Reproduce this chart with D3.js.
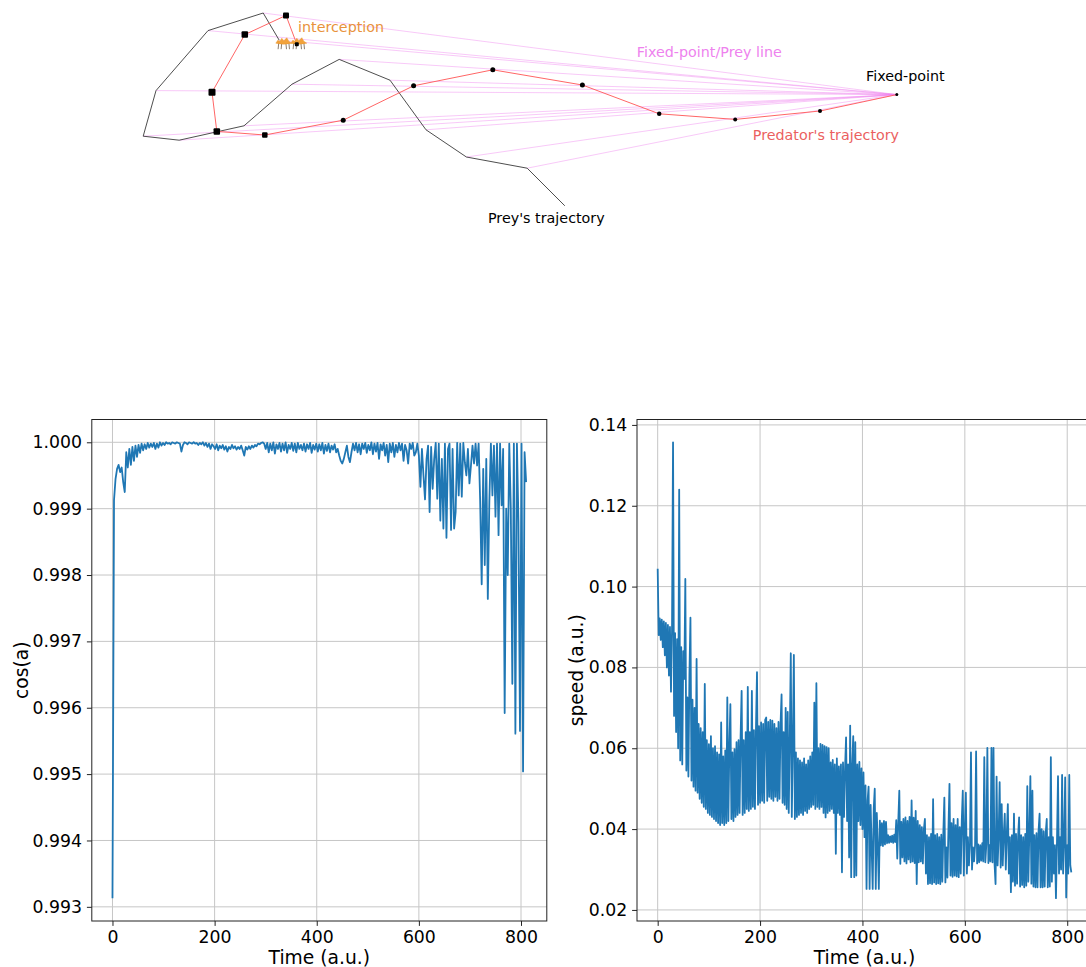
<!DOCTYPE html>
<html>
<head>
<meta charset="utf-8">
<script src="https://cdn.jsdelivr.net/npm/d3@7"></script>
<style>
  body { margin: 0; background: #fff; }
  svg { display: block; }
  text { font-family: "DejaVu Sans", sans-serif; }
</style>
</head>
<body>
<svg id="fig" width="1086" height="967"></svg>
<script>
// ---------- pursuit geometry (arena units) ----------
// prey positions, in time order, last one is where it is caught
const preyX = [48.4, 40.8, 35.75, 31.25, 24.9, 19.0, 13.0, 4.9, 0.4, 2.0, 8.5, 15.4, 17.4];
const preyY = [7.1, 8.5, 11.9, 18.1, 20.7, 17.6, 12.4, 10.6, 11.1, 16.8, 24.3, 26.5, 23.1];
// predator positions; it starts on the fixed point
const predX = [94.6, 85.0, 74.4, 64.9, 55.3, 44.1, 34.2, 25.4, 15.6, 9.6, 9.0, 13.1, 18.25, 19.6];
const predY = [16.3, 14.25, 13.2, 13.9, 17.5, 19.4, 17.4, 13.1, 11.25, 11.7, 16.6, 23.8, 26.2, 22.6];

// ---------- time series ----------
// cos(a), one sample every 3 time units
const cosStep = 3;
const cosA = [
  0.99313, 0.99913, 0.99945, 0.99960, 0.99966, 0.99955, 0.99962, 0.99940, 0.99925, 0.99985,
  0.99962, 0.99990, 0.99966, 0.99993, 0.99972, 0.99995, 0.99978, 0.99996, 0.99984, 0.99998,
  0.99988, 0.99997, 0.99990, 0.99999, 0.99992, 0.99998,
  0.99993, 0.99999, 0.99990, 0.99998, 0.99992, 1.00000, 0.99995, 0.99999, 0.99996, 1.00000,
  0.99998, 0.99999, 0.99997, 1.00000, 0.99999, 0.99998, 1.00000, 0.99999,
  0.99998, 0.99986, 0.99996, 1.00000, 0.99999, 0.99997, 1.00000, 0.99999, 0.99998, 1.00000,
  0.99998, 0.99999, 0.99996, 0.99999, 0.99997, 1.00000, 0.99995, 0.99999, 0.99993, 0.99998,
  0.99990, 0.99997, 0.99994,
  0.99990, 0.99997, 0.99988, 0.99995, 0.99991, 0.99996, 0.99989, 0.99994, 0.99986, 0.99993,
  0.99990, 0.99996, 0.99991, 0.99994, 0.99989, 0.99993, 0.99990, 0.99995, 0.99988, 0.99980,
  0.99993, 0.99989, 0.99994, 0.99990, 0.99995, 0.99992, 0.99996, 0.99994, 0.99998, 0.99997,
  0.99999, 1.00000, 0.99998, 0.99990,
  0.99999, 0.99985, 0.99998, 0.99988, 1.00000, 0.99983, 0.99997, 0.99990, 0.99999, 0.99986,
  0.99998, 0.99988, 1.00000, 0.99984, 0.99996, 0.99990, 0.99999, 0.99987, 0.99998, 0.99985,
  0.99999, 0.99990, 0.99996, 0.99988,
  0.99998, 0.99986, 0.99997, 0.99990, 0.99999, 0.99984, 0.99996, 0.99989, 0.99998, 0.99986,
  0.99997, 0.99988, 0.99999, 0.99983, 0.99996, 0.99987, 0.99998, 0.99985, 0.99995, 0.99989,
  0.99997, 0.99985, 0.99990, 0.99980, 0.99972, 0.99968, 0.99975, 0.99985, 0.99995, 0.99978,
  0.99970, 0.99985, 0.99998,
  0.99988, 0.99999, 0.99985, 0.99997, 0.99982, 0.99998, 0.99990, 0.99999, 0.99984, 0.99996,
  0.99988, 1.00000, 0.99982, 0.99998, 0.99986, 0.99999, 0.99975, 0.99997, 0.99988, 0.99999,
  0.99980, 0.99996, 0.99970, 0.99998, 0.99985, 0.99999, 0.99978, 0.99996,
  0.99985, 0.99999, 0.99988, 0.99998, 0.99972, 0.99996, 0.99988, 0.99968, 0.99998, 0.99990,
  0.99999, 0.99980,
  0.99985, 0.99998, 0.99980, 0.99933, 0.99990, 0.99950, 0.99914, 0.99975, 0.99995, 0.99895,
  0.99993, 0.99930, 0.99975, 0.99999, 0.99915, 0.99998, 0.99882, 0.99975, 0.99870, 0.99998,
  0.99856, 0.99990, 0.99998, 0.99868, 0.99990, 0.99870, 0.99895, 0.99999, 0.99920, 0.99998,
  0.99918, 0.99999, 0.99970, 0.99950, 0.99990, 0.99938, 0.99965, 0.99995, 0.99968, 0.99998,
  0.99965, 0.99998, 0.99912, 0.99786, 0.99960, 0.99815, 0.99975, 0.99764, 0.99912, 0.99998,
  0.99920, 0.99995, 0.99888, 0.99998, 0.99860, 0.99998, 0.99905, 0.99990, 0.99592, 0.99900,
  0.99800, 0.99998, 0.99900, 0.99636, 0.99998, 0.99561, 0.99998, 0.99880, 0.99565, 0.99998,
  0.99504, 0.99985, 0.99940
];
// speed, one sample every 2 time units
const speedStep = 2;
const speed = [
  0.1044, 0.0880, 0.0921, 0.0868, 0.0918, 0.0850, 0.0914, 0.0830, 0.0910, 0.0800,
  0.0905, 0.0780, 0.0900, 0.0740, 0.0893, 0.1357, 0.0680, 0.0885, 0.0640, 0.0870,
  0.0600, 0.1240, 0.0570, 0.0850, 0.0560, 0.0840, 0.0772, 0.1019, 0.0545, 0.0726,
  0.0530, 0.0780, 0.0923, 0.0520, 0.0720, 0.0505, 0.0700, 0.0495, 0.0821, 0.0490,
  0.0660, 0.0475, 0.0650, 0.0465, 0.0640, 0.0455, 0.0759, 0.0450, 0.0620, 0.0440,
  0.0610, 0.0435, 0.0630, 0.0430, 0.0600, 0.0425, 0.0605, 0.0420, 0.0590, 0.0415,
  0.0585, 0.0410, 0.0664, 0.0415, 0.0580, 0.0410, 0.0595, 0.0415, 0.0726, 0.0420,
  0.0600, 0.0709, 0.0425, 0.0590, 0.0420, 0.0598, 0.0430, 0.0615, 0.0435, 0.0620,
  0.0440, 0.0630, 0.0742, 0.0435, 0.0620, 0.0440, 0.0640, 0.0450, 0.0752, 0.0445,
  0.0640, 0.0450, 0.0742, 0.0455, 0.0645, 0.0450, 0.0650, 0.0788, 0.0460, 0.0655,
  0.0465, 0.0664, 0.0470, 0.0660, 0.0465, 0.0670, 0.0676, 0.0470, 0.0665, 0.0480,
  0.0670, 0.0475, 0.0668, 0.0470, 0.0660, 0.0480, 0.0650, 0.0470, 0.0665, 0.0475,
  0.0660, 0.0733, 0.0465, 0.0640, 0.0460, 0.0700, 0.0450, 0.0690, 0.0440, 0.0620,
  0.0835, 0.0430, 0.0610, 0.0831, 0.0425, 0.0590, 0.0430, 0.0575, 0.0435, 0.0570,
  0.0440, 0.0565, 0.0435, 0.0575, 0.0445, 0.0560, 0.0440, 0.0570, 0.0450, 0.0580,
  0.0455, 0.0590, 0.0460, 0.0713, 0.0450, 0.0761, 0.0455, 0.0600, 0.0450, 0.0611,
  0.0455, 0.0608, 0.0440, 0.0605, 0.0429, 0.0603, 0.0440, 0.0600, 0.0445, 0.0565,
  0.0450, 0.0571, 0.0440, 0.0560, 0.0339, 0.0575, 0.0440, 0.0555, 0.0435, 0.0560,
  0.0293, 0.0565, 0.0430, 0.0550, 0.0627, 0.0420, 0.0560, 0.0330, 0.0656, 0.0281,
  0.0560, 0.0630, 0.0281, 0.0615, 0.0285, 0.0560, 0.0420, 0.0566, 0.0410, 0.0550,
  0.0400, 0.0540, 0.0380, 0.0508, 0.0252, 0.0470, 0.0505, 0.0252, 0.0460, 0.0350,
  0.0252, 0.0450, 0.0500, 0.0252, 0.0440, 0.0360, 0.0252, 0.0421, 0.0360, 0.0415,
  0.0358, 0.0420, 0.0362, 0.0418, 0.0365, 0.0385, 0.0366, 0.0382, 0.0368, 0.0384,
  0.0366, 0.0386, 0.0368, 0.0422, 0.0327, 0.0420, 0.0495, 0.0314, 0.0418, 0.0330,
  0.0425, 0.0320, 0.0429, 0.0315, 0.0420, 0.0325, 0.0430, 0.0318, 0.0471, 0.0320,
  0.0428, 0.0316, 0.0445, 0.0264, 0.0420, 0.0318, 0.0410, 0.0320, 0.0405, 0.0315,
  0.0400, 0.0425, 0.0290, 0.0385, 0.0264, 0.0380, 0.0266, 0.0388, 0.0264, 0.0474,
  0.0268, 0.0385, 0.0264, 0.0388, 0.0266, 0.0380, 0.0264, 0.0386, 0.0270, 0.0390,
  0.0478, 0.0268, 0.0355, 0.0280, 0.0400, 0.0512, 0.0285, 0.0415, 0.0282, 0.0425,
  0.0285, 0.0410, 0.0283, 0.0425, 0.0281, 0.0405, 0.0290, 0.0420, 0.0495, 0.0285,
  0.0400, 0.0490, 0.0290, 0.0380, 0.0310, 0.0360, 0.0590, 0.0300, 0.0355, 0.0320,
  0.0360, 0.0592, 0.0315, 0.0362, 0.0318, 0.0360, 0.0322, 0.0365, 0.0320, 0.0578,
  0.0318, 0.0362, 0.0601, 0.0316, 0.0360, 0.0320, 0.0601, 0.0318, 0.0601, 0.0315,
  0.0264, 0.0530, 0.0310, 0.0380, 0.0516, 0.0305, 0.0462, 0.0310, 0.0385, 0.0438,
  0.0300, 0.0388, 0.0462, 0.0290, 0.0380, 0.0244, 0.0385, 0.0270, 0.0438, 0.0260,
  0.0388, 0.0265, 0.0380, 0.0429, 0.0258, 0.0385, 0.0262, 0.0380, 0.0256, 0.0388,
  0.0260, 0.0506, 0.0270, 0.0390, 0.0531, 0.0265, 0.0495, 0.0258, 0.0385, 0.0256,
  0.0390, 0.0256, 0.0395, 0.0438, 0.0256, 0.0400, 0.0256, 0.0395, 0.0258, 0.0390,
  0.0425, 0.0256, 0.0380, 0.0258, 0.0578, 0.0270, 0.0380, 0.0290, 0.0360, 0.0229,
  0.0370, 0.0531, 0.0290, 0.0380, 0.0300, 0.0534, 0.0290, 0.0370, 0.0528, 0.0231,
  0.0360, 0.0290, 0.0534, 0.0310, 0.0293
];
const timeTicks = [0, 200, 400, 600, 800];
const cosTicks = [0.993, 0.994, 0.995, 0.996, 0.997, 0.998, 0.999, 1.000];
const speedTicks = [0.02, 0.04, 0.06, 0.08, 0.10, 0.12, 0.14];

const svg = d3.select("#fig");
svg.append("rect").attr("width", 1086).attr("height", 967).attr("fill", "#fff");

// ---------- top: pursuit diagram ----------
const ax = d3.scaleLinear().domain([0, 100]).range([140, 940]);
const ay = d3.scaleLinear().domain([0, 28]).range([225, 1]);
const prey = preyX.map((x, i) => [x, preyY[i]]);
const pred = predX.map((x, i) => [x, predY[i]]);
const fixedPoint = pred[0];
const markerSize = [3, 4, 4, 4.5, 5, 5, 5, 5, 5.5, 6.5, 7, 6.5, 6, 4];

const diag = svg.append("g");
// bearing lines from the fixed point to every prey position
diag.selectAll("line.bearing").data(prey).join("line")
  .attr("class", "bearing")
  .attr("x1", ax(fixedPoint[0])).attr("y1", ay(fixedPoint[1]))
  .attr("x2", d => ax(d[0])).attr("y2", d => ay(d[1]))
  .attr("stroke", "#ee82ee").attr("stroke-opacity", 0.55).attr("stroke-width", 0.8);

const path = d3.line().x(d => ax(d[0])).y(d => ay(d[1]));
diag.append("path").attr("d", path(prey))
  .attr("fill", "none").attr("stroke", "#3a3a3a").attr("stroke-width", 0.9);
diag.append("path").attr("d", path(pred))
  .attr("fill", "none").attr("stroke", "#ff6666").attr("stroke-width", 1);

// annotation stroke from the prey label to the first prey position
const preyLabelAnchor = [53.1, 2.4];
diag.append("line")
  .attr("x1", ax(prey[0][0])).attr("y1", ay(prey[0][1]))
  .attr("x2", ax(preyLabelAnchor[0])).attr("y2", ay(preyLabelAnchor[1]))
  .attr("stroke", "#222").attr("stroke-width", 0.8);

// interception glyphs: two small figures at the catch point
const hit = pred[pred.length - 1];
const icon = diag.append("g").attr("transform", `translate(${ax(hit[0])},${ay(hit[1])})`);
[-13, 2].forEach(dx => {
  const c = icon.append("g").attr("transform", `translate(${dx},-2)`);
  [-5, -2, 2, 5].forEach(lx => c.append("line")
    .attr("x1", lx).attr("y1", 0).attr("x2", lx + (lx < 0 ? -0.7 : 0.7)).attr("y2", 7)
    .attr("stroke", "#8c7d70").attr("stroke-width", 1));
  c.append("path")
    .attr("d", "M-8,1 L-6,-2 L-4,-1 L-2,-4 L0,-1.5 L3,-4.5 L5,-1 L8,1 Q0,3 -8,1 Z")
    .attr("fill", "#f2a23a").attr("stroke", "#e59028").attr("stroke-width", 0.4);
});

// predator markers
diag.selectAll("rect.mk").data(pred).join("rect")
  .attr("class", "mk")
  .attr("x", (d, i) => ax(d[0]) - markerSize[i] / 2)
  .attr("y", (d, i) => ay(d[1]) - markerSize[i] / 2)
  .attr("width", (d, i) => markerSize[i]).attr("height", (d, i) => markerSize[i])
  .attr("rx", (d, i) => i < 8 ? markerSize[i] / 2 : 1)
  .attr("fill", "#000");

const labels = [
  { t: "interception", x: 19.75, y: 24.1, c: "#e8923c" },
  { t: "Fixed-point/Prey line", x: 62.1, y: 20.95, c: "#ee82ee" },
  { t: "Fixed-point", x: 90.75, y: 18.05, c: "#000" },
  { t: "Predator's trajectory", x: 76.6, y: 10.6, c: "#eb5f5f" },
  { t: "Prey's trajectory", x: 43.5, y: 0.25, c: "#000" }
];
diag.selectAll("text.lbl").data(labels).join("text")
  .attr("class", "lbl")
  .attr("x", d => ax(d.x)).attr("y", d => ay(d.y))
  .attr("fill", d => d.c).attr("font-size", 14.3).text(d => d.t);

// ---------- bottom: time series panels ----------
function padded(ext) {
  const p = (ext[1] - ext[0]) * 0.05;
  return [ext[0] - p, ext[1] + p];
}

function panel(o) {
  const times = o.values.map((_, i) => i * o.step);
  const x = d3.scaleLinear().domain(padded(d3.extent(times))).range([o.x0, o.x0 + o.w]);
  const y = d3.scaleLinear().domain(padded(d3.extent(o.values))).range([o.y0 + o.h, o.y0]);
  const g = svg.append("g");

  g.selectAll("line.gx").data(timeTicks).join("line").attr("class", "gx")
    .attr("x1", d => x(d)).attr("x2", d => x(d)).attr("y1", o.y0).attr("y2", o.y0 + o.h)
    .attr("stroke", "#c6c6c6").attr("stroke-width", 1);
  g.selectAll("line.gy").data(o.ticks).join("line").attr("class", "gy")
    .attr("y1", d => y(d)).attr("y2", d => y(d)).attr("x1", o.x0).attr("x2", o.x0 + o.w)
    .attr("stroke", "#c6c6c6").attr("stroke-width", 1);

  g.append("path").datum(o.values)
    .attr("d", d3.line().x((d, i) => x(times[i])).y(d => y(d)))
    .attr("fill", "none").attr("stroke", "#1f77b4").attr("stroke-width", 1.8)
    .attr("stroke-linejoin", "round");

  g.append("rect").attr("x", o.x0).attr("y", o.y0).attr("width", o.w).attr("height", o.h)
    .attr("fill", "none").attr("stroke", "#222").attr("stroke-width", 1);

  const xa = g.append("g").attr("transform", `translate(0,${o.y0 + o.h})`)
    .call(d3.axisBottom(x).tickValues(timeTicks).tickSize(4.9).tickPadding(4.9).tickFormat(d3.format("d")));
  const ya = g.append("g").attr("transform", `translate(${o.x0},0)`)
    .call(d3.axisLeft(y).tickValues(o.ticks).tickSize(4.9).tickPadding(4.9).tickFormat(d3.format(o.fmt)));
  [xa, ya].forEach(a => {
    a.select(".domain").remove();
    a.selectAll("line").attr("stroke", "#222").attr("stroke-width", 1);
    a.selectAll("text").attr("font-size", 17.3).attr("fill", "#000")
      .attr("font-family", "DejaVu Sans, sans-serif");
  });

  g.append("text").attr("x", o.x0 + o.w / 2).attr("y", 963.5)
    .attr("text-anchor", "middle").attr("font-size", 18.7).text("Time (a.u.)");
  g.append("text").attr("transform", `translate(${o.labelX},${o.y0 + o.h / 2}) rotate(-90)`)
    .attr("text-anchor", "middle").attr("font-size", 18.7).text(o.label);
}

panel({ x0: 91.8, y0: 419.5, w: 455, h: 501.5, values: cosA, step: cosStep, ticks: cosTicks, fmt: ".3f", label: "cos(a)", labelX: 27.5 });
panel({ x0: 637, y0: 419.5, w: 455, h: 501.5, values: speed, step: speedStep, ticks: speedTicks, fmt: ".2f", label: "speed (a.u.)", labelX: 583 });
</script>
</body>
</html>
